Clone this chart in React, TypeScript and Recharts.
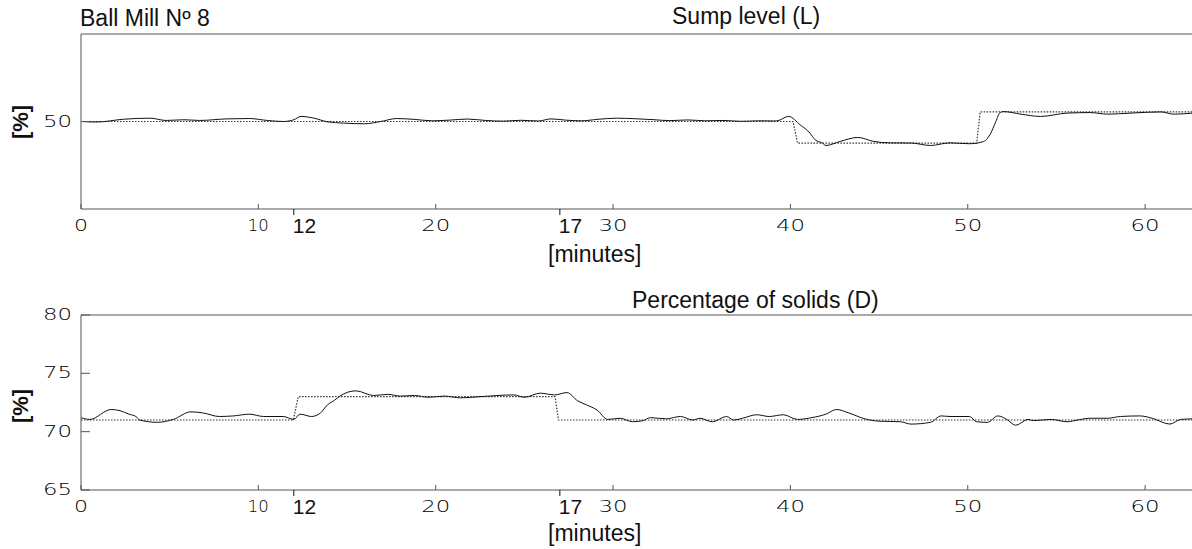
import { LineChart, Line, XAxis, YAxis } from "recharts";

const CHART_WIDTH = 1194;
const MAX_MINUTE = 62.7;

// time axis: regular minute ticks plus the two step instants, which carry their own labels
const minuteTicks = [0, 10, 12, 20, 27, 30, 40, 50, 60];
const minuteLabels = ["0", "10", "12", "20", "17", "30", "40", "50", "60"];
const stepTicks = [12, 27];
const frameTicks = [0, 10, 20, 30, 40, 50, 60];

const sumpTicks = [50];
const solidsTicks = [65, 70, 75, 80];

// Sump level (L): measured
const sumpMinutes = [
  0, 0.9, 2.4, 3.9, 4.8, 5.8, 6.7, 8.2, 9.5, 10.5, 11.4, 12, 12.4, 13.1, 13.9, 14.8, 16, 16.9, 17.8,
  18.8, 19.8, 20.8, 21.8, 22.8, 23.8, 24.8, 25.8, 26.5, 27.3, 28.2, 29.2, 30.2, 31.2, 32.2, 33.2,
  34.2, 35.2, 36.2, 37.2, 38.2, 39.2, 39.9, 40.55, 41.1, 41.4, 41.8, 42.0, 42.8, 43.8, 44.7, 45.6,
  46.8, 47.9, 49.0, 50.1, 50.9, 51.3, 51.55, 51.8, 52.0, 53.0, 54.1, 55.6, 56.9, 57.9, 59.2, 60.9,
  61.6, 62.7,
];
const sumpLevel = [
  50, 49.7, 51.3, 51.9, 50.6, 51.0, 50.6, 51.5, 51.7, 50.6, 50.0, 51.0, 52.9, 52.0, 49.8, 49.1, 48.7,
  50.0, 51.7, 51.2, 50.4, 50.8, 51.4, 50.6, 50.2, 50.7, 50.3, 51.5, 50.8, 50.4, 51.3, 51.9, 51.6,
  51.1, 50.5, 50.9, 50.4, 50.6, 50.1, 50.4, 50.3, 52.9, 48.1, 43.4, 39.5, 37.7, 36.3, 38.6, 40.9,
  38.6, 37.8, 37.7, 36.3, 37.8, 37.3, 38.6, 43.4, 49.1, 54.8, 55.7, 54.2, 52.9, 54.8, 55.1, 54.2,
  54.8, 55.5, 54.2, 54.8,
];
// Sump level (L): setpoint
const sumpSetMinutes = [0, 40.15, 40.4, 50.5, 50.7, 62.7];
const sumpSetLevel = [50, 50, 37.7, 37.7, 55.5, 55.5];

// Percentage of solids (D): measured
const solidsMinutes = [
  0, 0.5, 1.7, 2.2, 2.7, 3.1, 3.3, 4.3, 5.2, 6.2, 6.9, 7.8, 8.6, 9.5, 10.3, 11.4, 12.0, 12.35, 13.0,
  13.5, 13.9, 14.3, 14.6, 15.5, 16.5, 17.3, 18.0, 18.8, 19.6, 20.5, 21.4, 22.5, 24.4, 25.0, 25.9,
  26.7, 27.4, 28.0, 28.5, 29.1, 29.7, 30.4, 31.1, 31.7, 32.1, 33.0, 33.8, 34.5, 34.9, 35.6, 36.4,
  36.8, 37.3, 38.1, 38.8, 39.6, 40.4, 41.2, 42.0, 42.6, 43.3, 44.2, 45.0, 46.2, 46.8, 47.9, 48.5,
  49.0, 50.1, 50.5, 51.1, 51.7, 52.2, 52.7, 53.4, 53.7, 54.7, 55.6, 56.2, 56.9, 57.9, 58.6, 59.7,
  60.4, 61.4, 62.0, 62.7,
];
const solidsPercent = [
  71.2, 71.05, 71.9, 71.8, 71.5, 71.3, 71.0, 70.8, 71.05, 71.7, 71.6, 71.3, 71.35, 71.5, 71.3, 71.3,
  71.05, 71.5, 71.3, 71.6, 72.3, 72.7, 73.05, 73.5, 73.1, 73.2, 73.05, 73.1, 72.95, 73.05, 72.9,
  73.0, 73.15, 72.95, 73.3, 73.15, 73.35, 72.65, 72.3, 71.85, 71.05, 71.15, 70.85, 70.95, 71.2,
  71.1, 71.3, 71.0, 71.15, 70.85, 71.3, 71.0, 71.15, 71.45, 71.3, 71.45, 71.05, 71.2, 71.5, 71.9,
  71.6, 71.1, 70.9, 70.85, 70.65, 70.8, 71.35, 71.3, 71.3, 70.85, 70.8, 71.35, 71.05, 70.55, 71.05,
  70.95, 71.05, 70.85, 71.0, 71.15, 71.15, 71.3, 71.35, 71.15, 70.65, 71.05, 71.1,
];
// Percentage of solids (D): setpoint
const solidsSetMinutes = [0, 11.97, 12.25, 26.73, 26.92, 62.7];
const solidsSetPercent = [71, 71, 73, 73, 71, 71];

const zip = (t: number[], v: number[]) => t.map((m, i) => ({ t: m, v: v[i] }));

const INK = "#111";
const FRAME = "#555";

// thin, wide numerals of the plotting program ("1" is a narrow stroke, so it gets less room)
function PlotNumber({ x, y, label, anchor }: { x: number; y: number; label: string; anchor: "middle" | "end" }) {
  const length = label.length * 15 - 1 - (label.includes("1") ? 8 : 0);
  return (
    <text
      x={x}
      y={y}
      textAnchor={anchor}
      dominantBaseline="central"
      fontFamily="DejaVu Sans, sans-serif"
      fontWeight={200}
      fontSize={15}
      fill="#000"
      textLength={length}
      lengthAdjust="spacingAndGlyphs"
    >
      {label}
    </text>
  );
}

function MinuteTick(props: any) {
  const { x, y, payload } = props;
  const label = minuteLabels[minuteTicks.indexOf(payload.value)];
  if (stepTicks.includes(payload.value)) {
    return (
      <g>
        <line x1={x} y1={y} x2={x} y2={y + 6} stroke={INK} strokeWidth={1} />
        <text x={x - 1} y={y + 24} fontFamily="Liberation Sans, Arial, sans-serif" fontSize={21} fill={INK}>
          {label}
        </text>
      </g>
    );
  }
  return (
    <g>
      <line x1={x} y1={y} x2={x} y2={y - 5} stroke={FRAME} strokeWidth={1} />
      <PlotNumber x={x} y={y + 17} label={label} anchor="middle" />
    </g>
  );
}

function FrameTopTick(props: any) {
  return <line x1={props.x} y1={props.y} x2={props.x} y2={props.y + 5} stroke={FRAME} strokeWidth={1} />;
}

function ValueTick(props: any) {
  const { x, y, payload } = props;
  return (
    <g>
      <line x1={x} y1={y} x2={x + 9} y2={y} stroke={FRAME} strokeWidth={1} />
      <PlotNumber x={x - 9} y={y} label={String(payload.value)} anchor="end" />
    </g>
  );
}

function FrameRightTick(props: any) {
  return <line x1={props.x - 9} y1={props.y} x2={props.x} y2={props.y} stroke={FRAME} strokeWidth={1} />;
}

interface PanelProps {
  height: number;
  margin: { top: number; right: number; bottom: number; left: number };
  domain: [number, number];
  valueTicks: number[];
  measured: { t: number; v: number }[];
  setpoint: { t: number; v: number }[];
}

// every axis is 1px thick so it still renders; the margins leave room for the labels
function Panel({ height, margin, domain, valueTicks, measured, setpoint }: PanelProps) {
  return (
    <LineChart width={CHART_WIDTH} height={height} margin={margin}>
      <XAxis
        xAxisId="time"
        dataKey="t"
        type="number"
        domain={[0, MAX_MINUTE]}
        ticks={minuteTicks}
        interval={0}
        height={1}
        tickSize={0}
        tickMargin={0}
        tickLine={false}
        tick={MinuteTick}
        axisLine={{ stroke: FRAME, strokeWidth: 1 }}
        allowDataOverflow
      />
      <XAxis
        xAxisId="frame"
        orientation="top"
        type="number"
        domain={[0, MAX_MINUTE]}
        ticks={frameTicks}
        interval={0}
        height={1}
        tickSize={0}
        tickMargin={0}
        tickLine={false}
        tick={FrameTopTick}
        axisLine={{ stroke: FRAME, strokeWidth: 1 }}
      />
      <YAxis
        yAxisId="value"
        type="number"
        domain={domain}
        ticks={valueTicks}
        interval={0}
        width={1}
        tickSize={0}
        tickMargin={0}
        tickLine={false}
        tick={ValueTick}
        axisLine={{ stroke: FRAME, strokeWidth: 1 }}
        allowDataOverflow
      />
      <YAxis
        yAxisId="frame"
        orientation="right"
        type="number"
        domain={domain}
        ticks={valueTicks}
        interval={0}
        width={1}
        tickSize={0}
        tickMargin={0}
        tickLine={false}
        tick={FrameRightTick}
        axisLine={{ stroke: FRAME, strokeWidth: 1 }}
      />
      <Line
        data={setpoint}
        xAxisId="time"
        yAxisId="value"
        dataKey="v"
        type="linear"
        stroke="#333"
        strokeWidth={1.2}
        strokeDasharray="1.5 1.5"
        dot={false}
        isAnimationActive={false}
      />
      <Line
        data={measured}
        xAxisId="time"
        yAxisId="value"
        dataKey="v"
        type="monotone"
        stroke={INK}
        strokeWidth={1}
        dot={false}
        isAnimationActive={false}
      />
    </LineChart>
  );
}

const titleFont = "Liberation Sans, Arial, Helvetica, sans-serif";

export default function App() {
  return (
    <div
      style={{
        position: "fixed",
        left: 0,
        top: 0,
        width: 1192,
        height: 549,
        overflow: "hidden",
        background: "#fff",
      }}
    >
      <div style={{ position: "absolute", left: 0, top: 0 }}>
        <Panel
          height={275}
          margin={{ top: 33, right: 0, bottom: 65, left: 80 }}
          domain={[0, 100]}
          valueTicks={sumpTicks}
          measured={zip(sumpMinutes, sumpLevel)}
          setpoint={zip(sumpSetMinutes, sumpSetLevel)}
        />
      </div>
      <div style={{ position: "absolute", left: 0, top: 275 }}>
        <Panel
          height={274}
          margin={{ top: 39, right: 0, bottom: 58, left: 80 }}
          domain={[65, 80]}
          valueTicks={solidsTicks}
          measured={zip(solidsMinutes, solidsPercent)}
          setpoint={zip(solidsSetMinutes, solidsSetPercent)}
        />
      </div>
      <svg
        width={1192}
        height={549}
        style={{ position: "absolute", left: 0, top: 0, pointerEvents: "none" }}
        fontFamily={titleFont}
        fill={INK}
      >
        <text x={80} y={26} fontSize={23}>Ball Mill Nº 8</text>
        <text x={672} y={24} fontSize={23}>Sump level (L)</text>
        <text x={632} y={308} fontSize={23}>Percentage of solids (D)</text>
        <text x={548} y={262} fontSize={23}>[minutes]</text>
        <text x={548} y={541} fontSize={23}>[minutes]</text>
        <text transform="translate(28,122) rotate(-90)" textAnchor="middle" fontSize={22} fontWeight="bold">[%]</text>
        <text transform="translate(28,406) rotate(-90)" textAnchor="middle" fontSize={22} fontWeight="bold">[%]</text>
      </svg>
    </div>
  );
}
